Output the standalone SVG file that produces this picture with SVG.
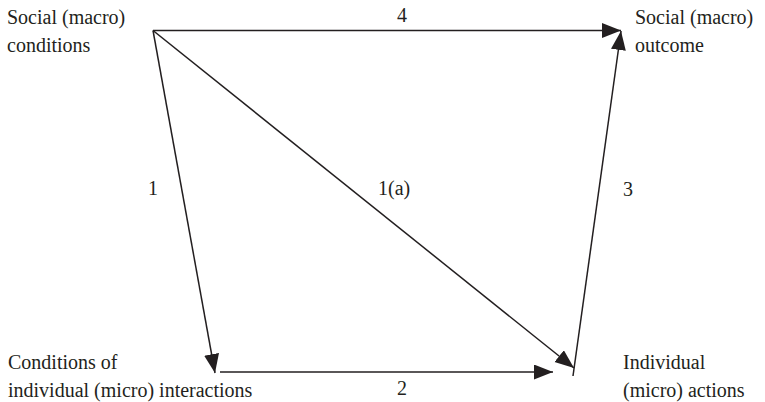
<svg xmlns="http://www.w3.org/2000/svg" width="765" height="402" viewBox="0 0 765 402">
<style>
.t{font-size:20px;fill:#231f20}
.e{stroke:#231f20;stroke-width:1.5;fill:none;marker-end:url(#ah)}
</style>
<defs>
<marker id="ah" markerUnits="userSpaceOnUse" markerWidth="20" markerHeight="16" refX="19" refY="7.5" orient="auto">
<path d="M0,0 L19,7.5 L0,15 z" fill="#231f20"/>
</marker>
</defs>
<rect width="765" height="402" fill="#fff"/>
<g id="connectors">
<line class="e" x1="153" y1="30.5" x2="621" y2="30.5"/>
<line class="e" x1="153" y1="30.5" x2="215" y2="373"/>
<line class="e" x1="153" y1="30.5" x2="574" y2="368"/>
<line class="e" x1="220" y1="372" x2="553" y2="372"/>
<line class="e" x1="573" y1="376" x2="621" y2="31"/>
</g>
<g font-family="Liberation Serif, serif">
<g id="labels">
<text class="t" x="397" y="22">4</text>
<text class="t" x="148" y="195">1</text>
<text class="t" x="378" y="195">1(a)</text>
<text class="t" x="623" y="196">3</text>
<text class="t" x="397" y="395">2</text>
</g>
<g id="n-social-conditions">
<text class="t" x="7" y="24">Social (macro)</text>
<text class="t" x="7" y="52">conditions</text>
</g>
<g id="n-social-outcome">
<text class="t" x="635" y="24">Social (macro)</text>
<text class="t" x="635" y="52">outcome</text>
</g>
<g id="n-micro-conditions">
<text class="t" x="8" y="369">Conditions of</text>
<text class="t" x="8" y="397">individual (micro) interactions</text>
</g>
<g id="n-micro-actions">
<text class="t" x="623" y="369">Individual</text>
<text class="t" x="623" y="397">(micro) actions</text>
</g>
</g>
</svg>
